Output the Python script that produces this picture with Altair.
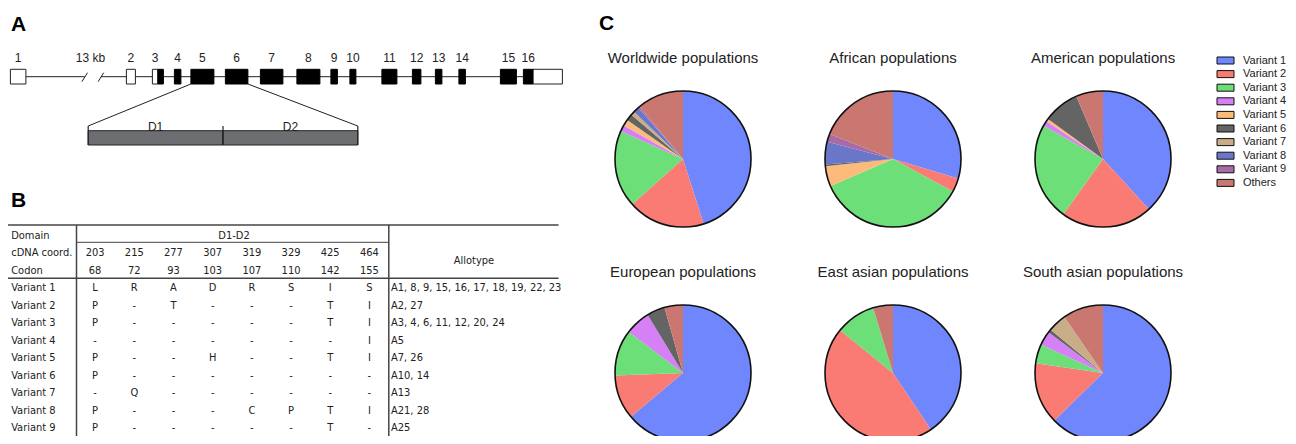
import math
import pandas as pd
import altair as alt

# ---------------- Panel A: gene structure (positions, diagram units) -------------
SEG_EXON = [1, 2, 3, 3, 4, 5, 6, 7, 8, 9, 10, 11, 12, 13, 14, 15, 16, 16]
SEG_START = [0, 116, 142, 147.5, 164, 180.5, 215, 250, 286.5, 320.5, 339.5, 371.5, 402, 425, 448.5, 490, 513, 522.5]
SEG_END = [15.5, 125, 147.5, 153, 170.5, 203.5, 237.5, 272.5, 309.5, 327, 345.5, 386.5, 410.5, 431.5, 455, 506, 522.5, 552]
SEG_CODING = [False, False, False, True, True, True, True, True, True, True, True, True, True, True, True, True, True, False]
INTRON_BREAK = [74.3, 90.5]          # the two "//" marks of the 13 kb intron
INTRON_LABEL = "13 kb"
INTRON_LABEL_POS = 80
DOMAINS = ["D1", "D2"]
DOMAIN_FRAC = [0.0, 0.5, 1.0]

# ---------------- Panel B: table ----------------
CDNA = ["203", "215", "277", "307", "319", "329", "425", "464"]
CODON = ["68", "72", "93", "103", "107", "110", "142", "155"]
VARIANT_NAMES = [f"Variant {i}" for i in range(1, 10)]
RESIDUES = [
    ["L", "R", "A", "D", "R", "S", "I", "S"],
    ["P", "-", "T", "-", "-", "-", "T", "I"],
    ["P", "-", "-", "-", "-", "-", "T", "I"],
    ["-", "-", "-", "-", "-", "-", "-", "I"],
    ["P", "-", "-", "H", "-", "-", "T", "I"],
    ["P", "-", "-", "-", "-", "-", "-", "-"],
    ["-", "Q", "-", "-", "-", "-", "-", "-"],
    ["P", "-", "-", "-", "C", "P", "T", "I"],
    ["P", "-", "-", "-", "-", "-", "T", "-"],
]
ALLOTYPES = [
    "A1, 8, 9, 15, 16, 17, 18, 19, 22, 23",
    "A2, 27",
    "A3, 4, 6, 11, 12, 20, 24",
    "A5",
    "A7, 26",
    "A10, 14",
    "A13",
    "A21, 28",
    "A25",
]

# ---------------- Panel C: pies ----------------
CATEGORIES = VARIANT_NAMES + ["Others"]
COLORS = ["#6f86fd", "#fa7b73", "#6ddf79", "#d580f4", "#fdbb7b",
          "#646464", "#c9ad86", "#6a77c9", "#a96ba6", "#c97770"]
POPULATIONS = ["Worldwide populations", "African populations", "American populations",
               "European populations", "East asian populations", "South asian populations"]
WORLDWIDE = [45.1, 18.3, 18.3, 1.5, 1.5, 1.6, 0.9, 1.4, 0.4, 11.0]
AFRICAN = [29.6, 3.3, 35.6, 0.0, 4.8, 0.4, 0.0, 5.4, 1.9, 19.0]
AMERICAN = [38.2, 21.7, 23.2, 1.3, 0.6, 8.6, 0.0, 0.0, 0.0, 6.4]
EUROPEAN = [63.9, 10.5, 10.9, 6.0, 0.0, 4.3, 0.0, 0.0, 0.0, 4.4]
EAST_ASIAN = [40.6, 45.2, 9.5, 0.0, 0.0, 0.0, 0.0, 0.0, 0.0, 4.7]
SOUTH_ASIAN = [62.7, 14.6, 4.5, 3.4, 0.0, 0.8, 4.4, 0.0, 0.0, 9.6]
POP_VALUES = [WORLDWIDE, AFRICAN, AMERICAN, EUROPEAN, EAST_ASIAN, SOUTH_ASIAN]

# ---------------- layout ----------------
W, H = 1280, 428
FONT = "Liberation Sans"
NARROW = "Liberation Sans Narrow, DejaVu Sans Condensed, Liberation Sans"
TFS = 11
INK = "#222222"
one = pd.DataFrame({"k": [0]})

# ===== Panel A =====
gx = alt.Scale(domain=[0, 552], range=[2.4, 554.4], nice=False, zero=False)
seg = pd.DataFrame({"exon": SEG_EXON, "start": SEG_START, "end": SEG_END, "coding": SEG_CODING})
Y_LAB, Y_TOP, Y_BOT, Y_LINE = 50, 61.3, 76, 68.7
BAR_L, BAR_R = 77.8, 347.4
Y_BAR_EDGE, Y_BAR_TOP, Y_BAR_BOT = 118, 122.7, 137

intr = pd.DataFrame({"s": [SEG_END[0], INTRON_BREAK[1]], "e": [INTRON_BREAK[0], SEG_END[-1]]})
intron = alt.Chart(intr).mark_rule(color=INK, strokeWidth=1).encode(
    x=alt.X("s:Q", scale=gx, axis=None), x2="e:Q", y=alt.value(Y_LINE))
slashes = alt.Chart(pd.DataFrame({"c": INTRON_BREAK})).transform_calculate(
    a="datum.c - 2.8", b="datum.c + 2.8").mark_rule(color=INK, strokeWidth=1).encode(
    x=alt.X("a:Q", scale=gx, axis=None), x2="b:Q", y=alt.value(Y_BOT - 2.3), y2=alt.value(Y_TOP + 3.4))
exon_utr = alt.Chart(seg[~seg.coding]).mark_rect(fill="white", stroke=INK, strokeWidth=1).encode(
    x=alt.X("start:Q", scale=gx, axis=None), x2="end:Q", y=alt.value(Y_TOP), y2=alt.value(Y_BOT))
exon_cds = alt.Chart(seg[seg.coding]).mark_rect(fill="black", stroke="black", strokeWidth=1).encode(
    x=alt.X("start:Q", scale=gx, axis=None), x2="end:Q", y=alt.value(Y_TOP), y2=alt.value(Y_BOT))
first = seg.groupby("exon", as_index=False).first()
labs = pd.DataFrame({"t": [str(e) for e in first.exon] + [INTRON_LABEL],
                     "x": list((first.start + first.end) / 2) + [INTRON_LABEL_POS]})
exon_labels = alt.Chart(labs).mark_text(font=FONT, fontSize=12, color=INK, baseline="middle").encode(
    x=alt.X("x:Q", scale=gx, axis=None), y=alt.value(Y_LAB), text="t:N")
e5 = seg[seg.exon == 5].start.min()
e6 = seg[seg.exon == 6].end.max()
expand = alt.Chart(pd.DataFrame({"x0": [e5, e6], "x1": [BAR_L, BAR_R]})).mark_rule(color=INK, strokeWidth=1).encode(
    x=alt.X("x0:Q", scale=gx, axis=None), x2="x1:Q", y=alt.value(Y_BOT), y2=alt.value(Y_BAR_EDGE))
dom = pd.DataFrame({"d": DOMAINS, "f0": DOMAIN_FRAC[:-1], "f1": DOMAIN_FRAC[1:]})
span = f"({BAR_R} - {BAR_L})"
dom_bar = alt.Chart(dom).transform_calculate(
    a=f"{BAR_L} + datum.f0 * {span}", b=f"{BAR_L} + datum.f1 * {span}", m="(datum.a + datum.b) / 2")
dom_rect = dom_bar.mark_rect(fill="#6d6e71", stroke=INK, strokeWidth=1).encode(
    x=alt.X("a:Q", scale=gx, axis=None), x2="b:Q", y=alt.value(Y_BAR_TOP), y2=alt.value(Y_BAR_BOT))
dom_text = dom_bar.mark_text(font=FONT, fontSize=12, color=INK, baseline="middle").encode(
    x=alt.X("m:Q", scale=gx, axis=None), y=alt.value(Y_BAR_EDGE + 0.5), text="d:N")
dom_edges = alt.Chart(pd.DataFrame({"f": DOMAIN_FRAC})).transform_calculate(
    g=f"{BAR_L} + datum.f * {span}").mark_rule(color=INK, strokeWidth=1.2).encode(
    x=alt.X("g:Q", scale=gx, axis=None), y=alt.value(Y_BAR_EDGE), y2=alt.value(Y_BAR_BOT))
panel_a = alt.layer(intron, slashes, exon_utr, exon_cds, exon_labels, expand, dom_rect, dom_edges, dom_text)

# ===== Panel B =====
tx = alt.Scale(domain=[0, 7], range=[87.1, 361.4], nice=False, zero=False)
ty = alt.Scale(domain=[-3, 8], range=[227.8, 420.3], nice=False, zero=False)
cells = pd.DataFrame([{"row": i, "col": j, "t": r} for i, rr in enumerate(RESIDUES) for j, r in enumerate(rr)])
heads = pd.DataFrame([{"row": -2, "col": j, "t": c} for j, c in enumerate(CDNA)] +
                     [{"row": -1, "col": j, "t": c} for j, c in enumerate(CODON)])
body = pd.concat([cells, heads])
t_cells = alt.Chart(body).mark_text(font=NARROW, fontSize=TFS, color=INK, baseline="middle").encode(
    x=alt.X("col:Q", scale=tx, axis=None), y=alt.Y("row:Q", scale=ty, axis=None), text="t:N")
rowlab = pd.DataFrame({"row": [-3, -2, -1] + list(range(9)),
                       "t": ["Domain", "cDNA coord.", "Codon"] + VARIANT_NAMES})
t_rows = alt.Chart(rowlab).mark_text(font=NARROW, fontSize=TFS, color=INK, baseline="middle", align="left").encode(
    x=alt.value(3.2), y=alt.Y("row:Q", scale=ty, axis=None), text="t:N")
allo = pd.DataFrame({"row": list(range(9)), "t": ALLOTYPES})
t_allo = alt.Chart(allo).mark_text(font=NARROW, fontSize=TFS, color=INK, baseline="middle", align="left").encode(
    x=alt.value(383), y=alt.Y("row:Q", scale=ty, axis=None), text="t:N")
t_dom = alt.Chart(pd.DataFrame({"row": [-3], "t": ["D1-D2"]})).mark_text(
    font=NARROW, fontSize=TFS, color=INK, baseline="middle").encode(
    x=alt.value(226), y=alt.Y("row:Q", scale=ty, axis=None), text="t:N")
t_allohead = alt.Chart(one).mark_text(font=NARROW, fontSize=TFS, color=INK, baseline="middle").encode(
    x=alt.value(466), y=alt.value(253), text=alt.value("Allotype"))

def hrule(x0, x1, y, w):
    return alt.Chart(one).mark_rule(color="#444", strokeWidth=w).encode(
        x=alt.value(x0), x2=alt.value(x1), y=alt.value(y))

def vrule(x, y0, y1, w):
    return alt.Chart(one).mark_rule(color="#444", strokeWidth=w).encode(
        x=alt.value(x), y=alt.value(y0), y2=alt.value(y1))

rules = [hrule(-0.5, 550.6, 217, 1.5), hrule(68.5, 380.8, 234.3, 1), hrule(-0.5, 550.6, 270.3, 1.6),
         hrule(-0.5, 550.6, 429.3, 2), vrule(68.5, 217, 429.3, 1.5), vrule(380.8, 217, 429.3, 1.5)]
panel_b = alt.layer(*rules, t_cells, t_rows, t_allo, t_dom, t_allohead)

# ===== Panel C =====
R = 68
px = alt.Scale(domain=[0, 2], range=[675, 1095], nice=False, zero=False)
py = alt.Scale(domain=[0, 1], range=[151, 365], nice=False, zero=False)
pie_rows = []
for p, (name, vals) in enumerate(zip(POPULATIONS, POP_VALUES)):
    for v, (cat, val) in enumerate(zip(CATEGORIES, vals)):
        pie_rows.append({"population": name, "col": p % 3, "row": p // 3,
                         "variant": cat, "vidx": v, "value": val})
pies = pd.DataFrame(pie_rows)
pops = pd.DataFrame({"population": POPULATIONS, "col": [i % 3 for i in range(6)], "row": [i // 3 for i in range(6)]})

arcs = alt.Chart(pies).transform_joinaggregate(
    total="sum(value)", groupby=["population"]
).transform_window(
    cum="sum(value)", groupby=["population"], sort=[alt.SortField("vidx")], frame=[None, 0]
).transform_calculate(
    t0="(datum.cum - datum.value) / datum.total", t1="datum.cum / datum.total"
).mark_arc(outerRadius=R, stroke=None).encode(
    x=alt.X("col:Q", scale=px, axis=None),
    y=alt.Y("row:Q", scale=py, axis=None),
    theta=alt.Theta("t0:Q", scale=alt.Scale(domain=[0, 1], range=[0, 2 * math.pi]), stack=None),
    theta2="t1:Q",
    color=alt.Color("variant:N", scale=alt.Scale(domain=CATEGORIES, range=COLORS),
                    legend=alt.Legend(title=None, orient="none", legendX=1212, legendY=47,
                                      symbolType="M-1.7,-0.7H1.7V0.7H-1.7Z", symbolSize=100,
                                      symbolStrokeColor="#111", symbolStrokeWidth=1, symbolOpacity=1,
                                      labelFont=FONT, labelFontSize=11, labelColor=INK,
                                      labelOffset=12, rowPadding=1.6)),
    order=alt.Order("vidx:Q"),
)
outline = alt.Chart(pops).mark_point(shape="circle", size=(2 * R) ** 2, filled=False,
                                     stroke="#111", strokeWidth=1.6, opacity=1).encode(
    x=alt.X("col:Q", scale=px, axis=None), y=alt.Y("row:Q", scale=py, axis=None))
titles = alt.Chart(pops).mark_text(font=FONT, fontSize=15, color=INK, baseline="alphabetic", dy=-96).encode(
    x=alt.X("col:Q", scale=px, axis=None), y=alt.Y("row:Q", scale=py, axis=None), text="population:N")
panel_c = alt.layer(arcs, outline, titles)

# ===== panel letters =====
def letter(t, x, y):
    return alt.Chart(one).mark_text(font=FONT, fontSize=21, fontWeight="bold", color="black",
                                    align="left", baseline="alphabetic").encode(
        x=alt.value(x), y=alt.value(y), text=alt.value(t))

letters = alt.layer(letter("A", 3, 22.5), letter("B", 3, 199), letter("C", 591, 22))

chart = alt.layer(panel_a, panel_b, panel_c, letters).resolve_scale(
    x="independent", y="independent"
).properties(
    width=W, height=H, autosize=alt.AutoSizeParams(type="none"), padding=0
).configure_view(stroke=None)

chart.save("out.html", embed_options={"renderer": "svg", "actions": False})
